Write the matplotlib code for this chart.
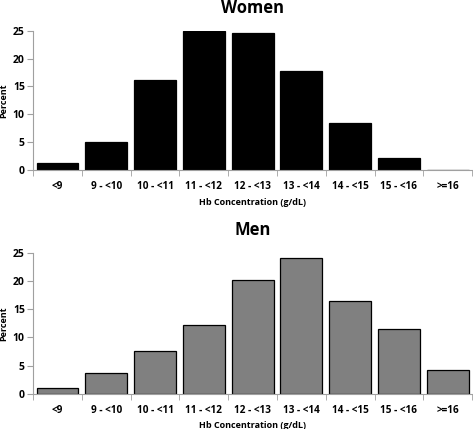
import numpy as np
import matplotlib.pyplot as plt

categories = ["<9", "9 - <10", "10 - <11", "11 - <12", "12 - <13", "13 - <14", "14 - <15", "15 - <16", ">=16"]
women_pct = [1.3, 5.1, 16.2, 25.0, 24.6, 17.8, 8.4, 2.2, 0.0]
men_pct = [1.1, 3.7, 7.5, 12.2, 20.1, 24.0, 16.5, 11.4, 4.2]

plt.rcParams['font.family'] = ['Open Sans', 'DejaVu Sans']

fig = plt.figure(figsize=(4.73, 4.29), dpi=100)
axW = fig.add_axes([0.070, 0.604, 0.928, 0.324])
axM = fig.add_axes([0.070, 0.082, 0.928, 0.329])

def style_panel(ax, values, title, color, edge):
    x = np.arange(len(categories))
    ax.bar(x, values, width=0.86, color=color, edgecolor=edge, linewidth=0.9)
    ax.set_xlim(-0.5, len(categories) - 0.5)
    ax.set_ylim(0, 25)
    ax.set_yticks([0, 5, 10, 15, 20, 25])
    ax.set_xticks(x)
    ax.set_xticklabels(categories)
    ax.set_xticks(np.arange(-0.5, len(categories)), minor=True)
    ax.tick_params(axis='x', which='major', length=0, pad=8, labelsize=7.2)
    ax.tick_params(axis='x', which='minor', length=4, color='#a0a0a0', direction='out')
    ax.tick_params(axis='y', length=4, color='#a0a0a0', labelsize=7.5, pad=2)
    for lab in ax.get_xticklabels() + ax.get_yticklabels():
        lab.set_fontweight('bold')
    ax.spines['top'].set_visible(False)
    ax.spines['right'].set_visible(False)
    ax.spines['left'].set_color('#a0a0a0')
    ax.spines['bottom'].set_color('#a0a0a0')
    ax.set_ylabel("Percent", fontsize=6.5, fontweight='bold', labelpad=3)
    ax.set_xlabel("Hb Concentration (g/dL)", fontsize=6.5, fontweight='bold', labelpad=4)
    ax.set_title(title, fontsize=12, fontweight='bold', pad=13)

style_panel(axW, women_pct, "Women", "black", "black")
style_panel(axM, men_pct, "Men", "#808080", "black")

fig.savefig("out.png", dpi=100)
